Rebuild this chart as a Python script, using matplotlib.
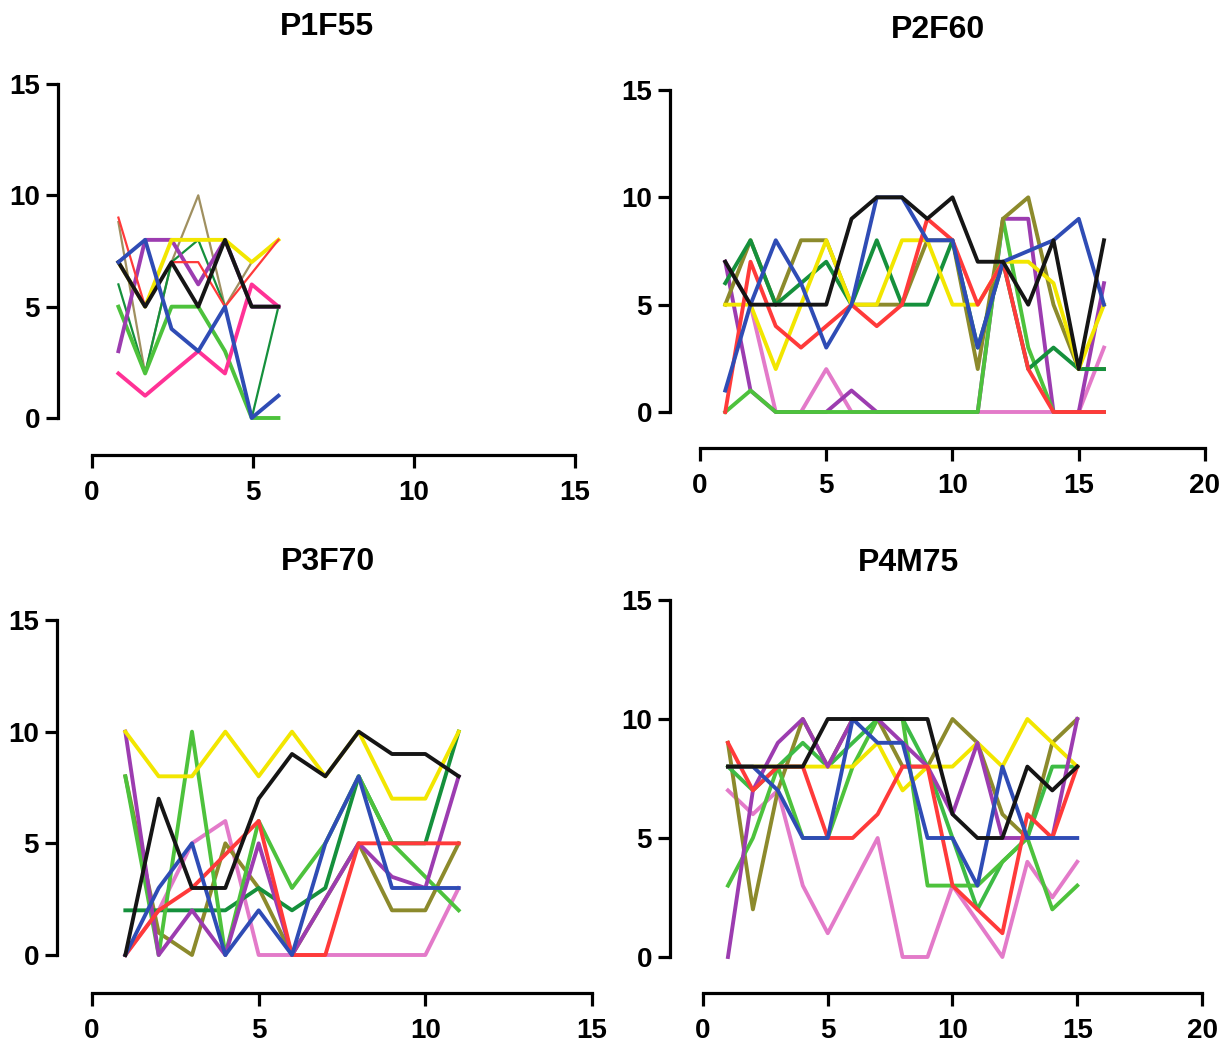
import matplotlib
matplotlib.use("Agg")
import matplotlib.pyplot as plt

plt.rcParams['font.family'] = ['Liberation Sans', 'DejaVu Sans']

# colours used across the panels
YEL = '#f2e600'
BLK = '#151515'
BLU = '#2f4cb5'
RED = '#ff3a3a'
LGR = '#4dc23c'
DGR = '#15903c'
PUR = '#9c3cb0'
OLV = '#8c8a2c'
PNK = '#e37ac9'
HPK = '#ff3296'
KHA = '#a09060'

titles = ["P1F55", "P2F60", "P3F70", "P4M75"]

# ---- P1F55 ----
p1_x = [0.82, 1.65, 2.47, 3.3, 4.13, 4.96, 5.79]
p1_khaki = [8.8, 2, 7, 10, 5, 7, 8]
p1_dgreen = [6, 2, 7, 8, 5, 0, 5]
p1_lgreen = [5, 2, 5, 5, 3, 0, 0]
p1_hpink = [2, 1, 2, 3, 2, 6, 5]
p1_purple = [3, 8, 8, 6, 8, 5, 5]
p1_yellow = [7, 5, 8, 8, 8, 7, 8]
p1_red = [9, 5, 7, 7, 5, 6.5, 8]
p1_black = [7, 5, 7, 5, 8, 5, 5]
p1_blue = [7, 8, 4, 3, 5, 0, 1]

# ---- P2F60 ----
p2_x = list(range(1, 17))
p2_pink = [7, 5, 0, 0, 2, 0, 0, 0, 0, 0, 0, 0, 0, 0, 0, 3]
p2_purple = [7, 1, 0, 0, 0, 1, 0, 0, 0, 0, 0, 9, 9, 0, 0, 6]
p2_lgreen = [0, 1, 0, 0, 0, 0, 0, 0, 0, 0, 0, 9, 3, 0, 0, 0]
p2_olive = [5, 8, 5, 8, 8, 5, 5, 5, 8, 8, 2, 9, 10, 5, 2, 2]
p2_dgreen = [6, 8, 5, 6, 7, 5, 8, 5, 5, 8, 3, 7, 2, 3, 2, 2]
p2_yellow = [5, 5, 2, 5, 8, 5, 5, 8, 8, 5, 5, 7, 7, 6, 2, 5]
p2_red = [0, 7, 4, 3, 4, 5, 4, 5, 9, 8, 5, 7, 2, 0, 0, 0]
p2_blue = [1, 5, 8, 6, 3, 5, 10, 10, 8, 8, 3, 7, 7.5, 8, 9, 5]
p2_black = [7, 5, 5, 5, 5, 9, 10, 10, 9, 10, 7, 7, 5, 8, 2, 8]

# ---- P3F70 ----
p3_x = list(range(1, 12))
p3_pink = [0, 2, 5, 6, 0, 0, 0, 0, 0, 0, 3]
p3_olive = [8, 1, 0, 5, 3, 0, 2.5, 5, 2, 2, 5]
p3_dgreen = [2, 2, 2, 2, 3, 2, 3, 8, 5, 5, 10]
p3_lgreen = [8, 0, 10, 0, 6, 3, 5, 8, 5, 3.5, 2]
p3_purple = [10, 0, 2, 0, 5, 0, 2.5, 5, 3.5, 3, 8]
p3_red = [0, 2, 3, 4.5, 6, 0, 0, 5, 5, 5, 5]
p3_blue = [0, 3, 5, 0, 2, 0, 5, 8, 3, 3, 3]
p3_yellow = [10, 8, 8, 10, 8, 10, 8, 10, 7, 7, 10]
p3_black = [0, 7, 3, 3, 7, 9, 8, 10, 9, 9, 8]

# ---- P4M75 ----
p4_x = list(range(1, 16))
p4_pink = [7, 6, 7, 3, 1, 3, 5, 0, 0, 3, 1.5, 0, 4, 2.5, 4]
p4_olive = [9, 2, 7, 10, 8, 10, 10, 8, 8, 10, 9, 6, 5, 9, 10]
p4_mgreen = [8, 7, 8, 9, 8, 9, 10, 10, 8, 5, 2, 4, 5, 8, 8]
p4_lgreen = [3, 5, 8, 5, 5, 8, 10, 10, 3, 3, 3, 4, 5, 2, 3]
p4_yellow = [8, 8, 8, 8, 8, 8, 9, 7, 8, 8, 9, 8, 10, 9, 8]
p4_purple = [0, 7, 9, 10, 8, 10, 10, 9, 8, 6, 9, 5, 5, 5, 10]
p4_red = [9, 7, 8, 8, 5, 5, 6, 8, 8, 3, 2, 1, 6, 5, 8]
p4_blue = [8, 8, 7, 5, 5, 10, 9, 9, 5, 5, 3, 8, 5, 5, 5]
p4_black = [8, 8, 8, 8, 10, 10, 10, 10, 10, 6, 5, 5, 8, 7, 8]

THIN, THICK = 1.6, 2.8
panels = [
    (p1_x, [(p1_khaki, KHA, THIN), (p1_dgreen, DGR, THIN), (p1_lgreen, LGR, THICK),
            (p1_hpink, HPK, THICK), (p1_purple, PUR, THICK), (p1_yellow, YEL, THICK),
            (p1_red, RED, THIN), (p1_black, BLK, THICK), (p1_blue, BLU, THICK)]),
    (p2_x, [(p2_pink, PNK, THICK), (p2_purple, PUR, THICK), (p2_lgreen, LGR, THICK),
            (p2_olive, OLV, THICK), (p2_dgreen, DGR, THICK), (p2_yellow, YEL, THICK),
            (p2_red, RED, THICK), (p2_blue, BLU, THICK), (p2_black, BLK, THICK)]),
    (p3_x, [(p3_pink, PNK, THICK), (p3_olive, OLV, THICK), (p3_dgreen, DGR, THICK),
            (p3_lgreen, LGR, THICK), (p3_purple, PUR, THICK), (p3_red, RED, THICK),
            (p3_blue, BLU, THICK), (p3_yellow, YEL, THICK), (p3_black, BLK, THICK)]),
    (p4_x, [(p4_pink, PNK, THICK), (p4_olive, OLV, THICK), (p4_mgreen, '#3dbb45', THICK),
            (p4_lgreen, LGR, THICK), (p4_yellow, YEL, THICK), (p4_purple, PUR, THICK),
            (p4_red, RED, THICK), (p4_blue, BLU, THICK), (p4_black, BLK, THICK)]),
]

# pixel layout: left spine x, x of 0, x of xmax, xmax, y of 0, y of 15, x-axis line y
W, H = 1232, 1045
layout = [
    (58, 92, 575, 15, 418, 84, 455),
    (670, 700, 1205, 20, 412, 90, 448),
    (57, 92, 592, 15, 955, 620, 993),
    (670, 703, 1202, 20, 957, 600, 993),
]
title_pos = [(327, 27), (938, 30), (328, 562), (908, 563)]

fig = plt.figure(figsize=(W / 100, H / 100), dpi=100)

for (xs, series), (sx, x0, xm, xmax, y0, y15, ly), title, (tx, ty) in zip(panels, layout, titles, title_pos):
    ax = fig.add_axes([sx / W, 1 - ly / H, (xm - sx) / W, (ly - y15) / H])
    ppx = (xm - x0) / xmax
    ppy = (y0 - y15) / 15
    ax.set_xlim((sx - x0) / ppx, xmax)
    ax.set_ylim(-(ly - y0) / ppy, 15)
    for vals, col, lw in series:
        ax.plot(xs, vals, color=col, lw=lw)
    for s in ('top', 'right'):
        ax.spines[s].set_visible(False)
    for s in ('left', 'bottom'):
        ax.spines[s].set_linewidth(2.3)
    ax.spines['left'].set_bounds(0, 15)
    ax.spines['bottom'].set_bounds(0, xmax)
    ax.set_xticks(range(0, xmax + 1, 5))
    ax.set_yticks([0, 5, 10, 15])
    ax.tick_params(width=2.3, length=9, labelsize=20)
    ax.tick_params(axis='x', pad=9)
    ax.tick_params(axis='y', pad=4)
    for lab in ax.get_xticklabels() + ax.get_yticklabels():
        lab.set_fontweight('bold')
    ax.patch.set_alpha(0)
    fig.text(tx / W, 1 - ty / H, title, ha='center', va='center', fontsize=23, fontweight='bold')

plt.savefig('out.png', dpi=100)
